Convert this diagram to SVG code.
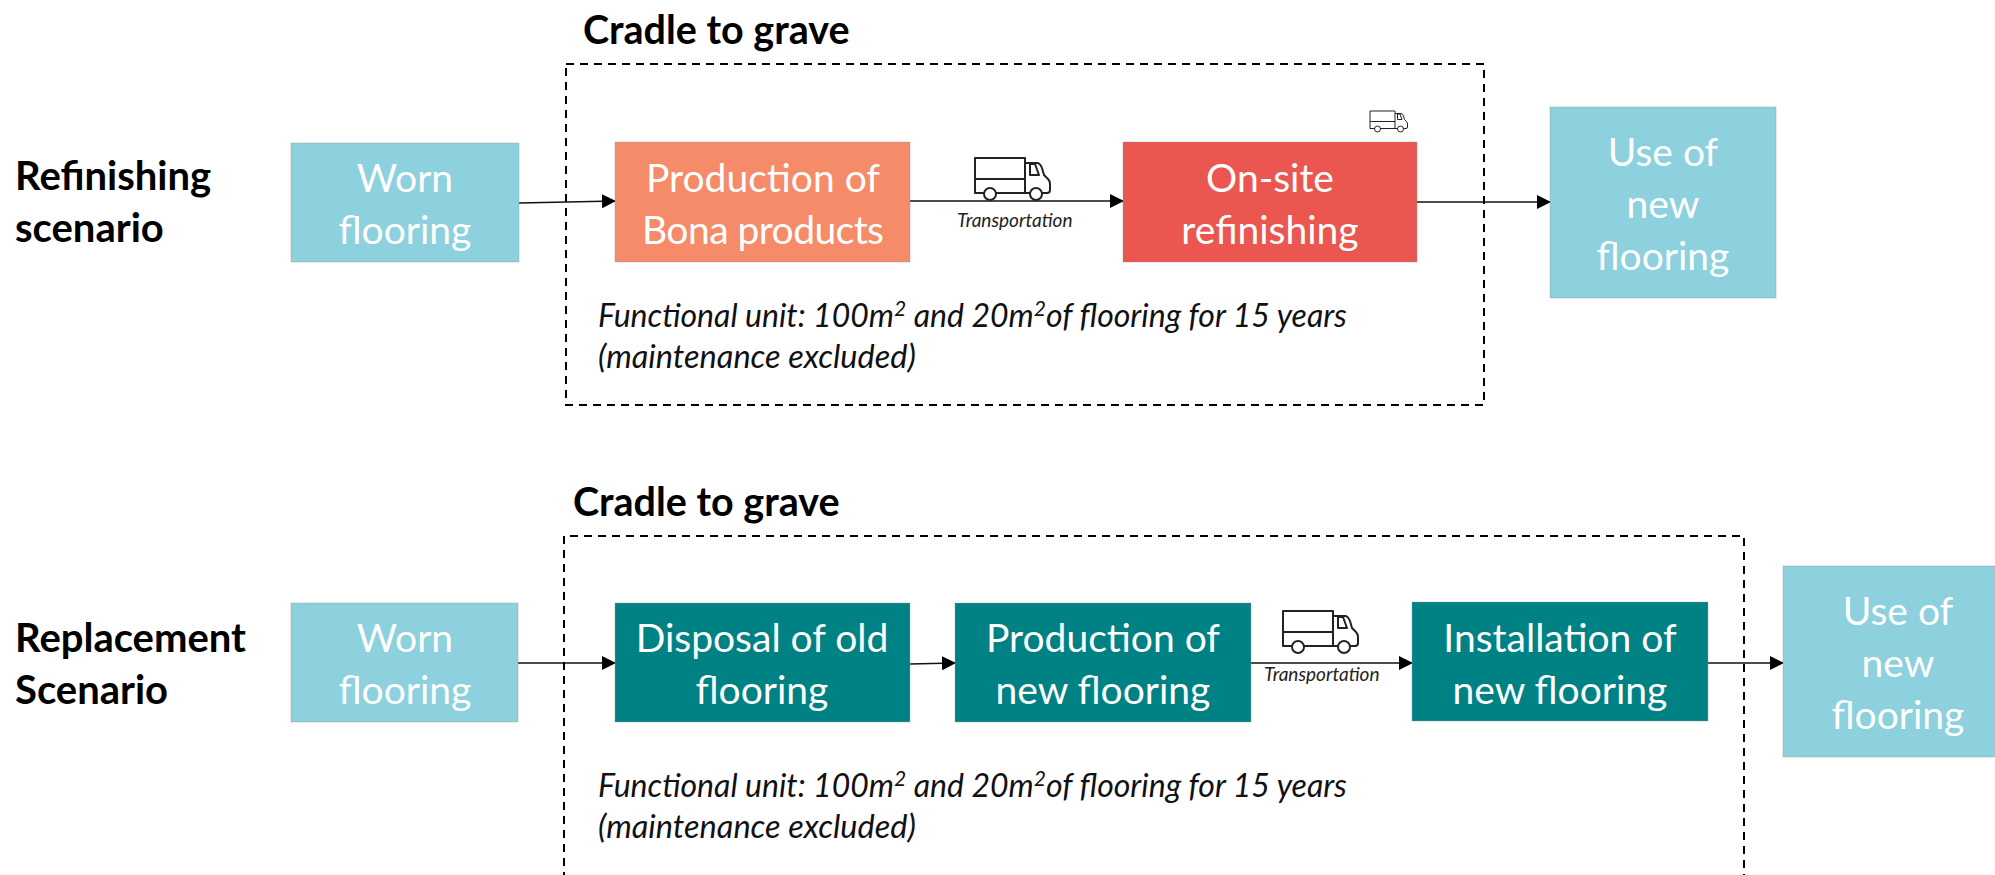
<svg xmlns="http://www.w3.org/2000/svg" width="1995" height="875" viewBox="0 0 1995 875">
<style>
text{font-family:"Lato","Open Sans","Liberation Sans",sans-serif}
.n{font-size:39px;fill:#fff;text-anchor:middle}
.h{font-size:40px;font-weight:700;fill:#000}
.c{font-size:39.500px;font-weight:700;fill:#000}
.f{font-size:32px;font-style:italic;fill:#111}
.g{font-size:32.500px;font-style:italic;fill:#111}
.t{font-size:19px;font-style:italic;fill:#222}
.b{stroke:#999;stroke-opacity:.4;stroke-width:1}
.lb{fill:#8CD1DD}
.tl{fill:#008285}
.cn{stroke:#111;stroke-width:1.6;fill:none;marker-end:url(#a)}
.d{fill:none;stroke:#000;stroke-width:2;stroke-dasharray:8 6}
.tr{fill:none;stroke:#222;stroke-width:2;stroke-linejoin:round}
</style>
<defs>
<marker id="a" markerUnits="userSpaceOnUse" markerWidth="14" markerHeight="14" refX="13" refY="7" orient="auto"><path d="M0 0L14 7L0 14Z" fill="#000"/></marker>
<g id="truck">
<path class="tr" d="M9 35H0V0H50V35H21M0 21H50M50 5H62Q65 5 67 10L69 17L73 21Q75 23 75 26V32Q75 35 72 35H67M55 35H50"/>
<path class="tr" d="M55 6H60L64 17H55Z"/>
<circle class="tr" cx="15" cy="36" r="6"/><circle class="tr" cx="61" cy="36" r="6"/>
</g>
</defs>
<g id="connectors">
<path class="cn" d="M519 203L615 201"/>
<path class="cn" d="M910 201H1123"/>
<path class="cn" d="M1417 202H1550"/>
<path class="cn" d="M518 663H615"/>
<path class="cn" d="M910 664L955 663"/>
<path class="cn" d="M1251 663H1412"/>
<path class="cn" d="M1708 663H1783"/>
</g>
<g id="scope-1"><rect class="d" x="566" y="64" width="918" height="341"/><text class="c" x="583" y="44">Cradle to grave</text></g>
<g id="scope-2"><path class="d" d="M564 880V536H1744V880"/><text class="c" x="573" y="516">Cradle to grave</text></g>
<g id="label-refinishing"><text class="h" x="15" y="190">Refinishing</text><text class="h" x="15" y="242">scenario</text></g>
<g id="label-replacement"><text class="h" x="15" y="652">Replacement</text><text class="h" x="15" y="704">Scenario</text></g>
<g id="worn-1"><rect class="lb b" x="291" y="143" width="228" height="119"/><text class="n" x="405" y="192">Worn</text><text class="n" x="405" y="244">flooring</text></g>
<g id="production-bona"><rect class="b" x="615" y="142" width="295" height="120" fill="#F58B69"/><text class="n" x="763" y="192">Production of</text><text class="n" x="763" y="244" textLength="242">Bona products</text></g>
<g id="on-site"><rect class="b" x="1123" y="142" width="294" height="120" fill="#EB5651"/><text class="n" x="1270" y="192">On-site</text><text class="n" x="1270" y="244">refinishing</text></g>
<g id="use-1"><rect class="lb b" x="1550" y="107" width="226" height="191"/><text class="n" x="1663" y="166">Use of</text><text class="n" x="1663" y="218">new</text><text class="n" x="1663" y="270">flooring</text></g>
<g id="worn-2"><rect class="lb b" x="291" y="603" width="227" height="119"/><text class="n" x="405" y="652">Worn</text><text class="n" x="405" y="704">flooring</text></g>
<g id="disposal"><rect class="tl b" x="615" y="603" width="295" height="119"/><text class="n" x="762" y="652">Disposal of old</text><text class="n" x="762" y="704">flooring</text></g>
<g id="production-new"><rect class="tl b" x="955" y="603" width="296" height="119"/><text class="n" x="1103" y="652">Production of</text><text class="n" x="1103" y="704">new flooring</text></g>
<g id="installation"><rect class="tl b" x="1412" y="602" width="296" height="119"/><text class="n" x="1560" y="652">Installation of</text><text class="n" x="1560" y="704">new flooring</text></g>
<g id="use-2"><rect class="lb b" x="1783" y="566" width="213" height="191"/><text class="n" x="1898" y="625">Use of</text><text class="n" x="1898" y="677">new</text><text class="n" x="1898" y="729">flooring</text></g>
<g id="transport-1"><use href="#truck" x="975" y="158"/><text class="t" x="957" y="227">Transportation</text></g>
<g id="transport-2"><use href="#truck" x="1283" y="611"/><text class="t" x="1264" y="681">Transportation</text></g>
<g id="transport-small"><use href="#truck" transform="translate(1370 111) scale(.5)"/></g>
<g id="fu-1"><text class="f" x="598" y="327">Functional unit: 100m<tspan font-size="21" dy="-11">2</tspan><tspan dy="11"> and 20m</tspan><tspan font-size="21" dy="-11">2</tspan><tspan dy="11">of flooring for 15 years</tspan></text><text class="g" x="598" y="368">(maintenance excluded)</text></g>
<g id="fu-2"><text class="f" x="598" y="797">Functional unit: 100m<tspan font-size="21" dy="-11">2</tspan><tspan dy="11"> and 20m</tspan><tspan font-size="21" dy="-11">2</tspan><tspan dy="11">of flooring for 15 years</tspan></text><text class="g" x="598" y="838">(maintenance excluded)</text></g>
</svg>
